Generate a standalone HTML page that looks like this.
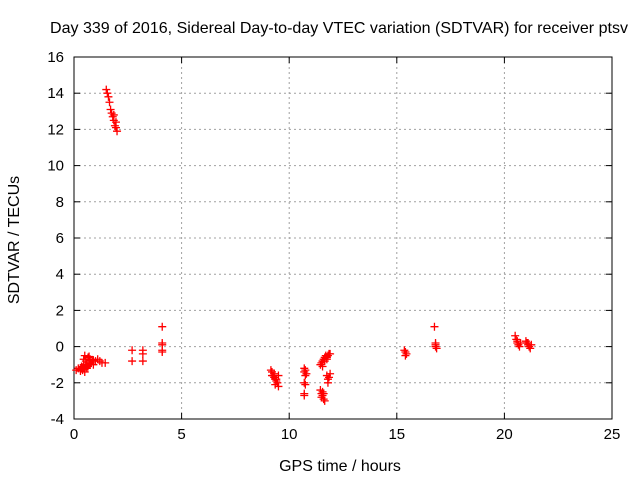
<!DOCTYPE html>
<html><head><meta charset="utf-8"><style>
body{margin:0;background:#fff}
svg text{font-family:"Liberation Sans",sans-serif;font-size:15px;fill:#000}
svg text.big{font-size:16px}
</style></head><body>
<svg id="c" width="640" height="480"></svg>
<script>
const xTicks=[0,5,10,15,20,25];
const yTicks=[-4,-2,0,2,4,6,8,10,12,14,16];
const xs=[0.1,0.2,0.3,0.35,0.4,0.45,0.5,0.55,0.6,0.65,0.7,0.75,0.8,0.85,0.9,1.0,1.1,1.2,1.3,1.45,0.5,0.6,0.7,0.4,0.55,0.45,0.65,0.75,0.3,0.9,
1.5,1.55,1.6,1.65,1.7,1.75,1.8,1.85,1.9,1.95,2.0,1.85,1.95,
2.7,2.7,3.2,3.2,3.2,4.1,4.1,4.1,4.1,4.1,
9.15,9.2,9.25,9.3,9.35,9.4,9.45,9.5,9.3,9.4,9.2,9.35,9.5,
10.7,10.7,10.75,10.7,10.75,10.7,10.7,10.75,10.8,
11.45,11.5,11.55,11.6,11.65,11.5,11.55,11.6,
11.75,11.8,11.8,11.85,11.9,
11.45,11.5,11.55,11.6,11.65,11.7,11.75,11.8,11.85,11.9,11.55,11.65,11.75,
15.35,15.4,15.45,15.4,
16.75,16.8,16.8,16.85,16.8,
20.5,20.55,20.6,20.65,20.7,20.6,20.75,
21.0,21.05,21.1,21.15,21.2,21.1,21.25];
const ys=[-1.3,-1.2,-1.25,-1.1,-1.3,-1.0,-0.5,-0.8,-1.2,-0.6,-1.0,-0.7,-0.9,-0.8,-1.0,-0.8,-0.7,-0.8,-0.9,-0.9,-1.4,-0.9,-0.55,-1.15,-1.05,-0.7,-1.1,-0.95,-1.35,-0.75,
14.2,14.0,13.8,13.5,13.1,12.9,12.7,12.5,12.2,12.1,11.9,12.8,12.4,
-0.2,-0.8,-0.2,-0.4,-0.8,1.1,0.2,0.1,-0.2,-0.3,
-1.3,-1.4,-1.6,-1.7,-1.8,-1.9,-2.0,-2.2,-1.5,-1.8,-1.6,-2.1,-1.6,
-1.2,-1.4,-1.6,-2.0,-2.1,-2.6,-2.7,-1.3,-1.5,
-2.4,-2.6,-2.7,-2.9,-3.0,-2.8,-2.5,-2.6,
-1.6,-1.8,-2.0,-1.7,-1.5,
-1.0,-0.9,-0.8,-0.7,-0.6,-0.5,-0.6,-0.5,-0.4,-0.4,-1.1,-0.8,-0.7,
-0.2,-0.3,-0.4,-0.5,
1.1,0.1,0.0,-0.1,0.2,
0.6,0.4,0.2,0.1,0.0,0.3,0.2,
0.3,0.2,0.1,0.0,-0.1,0.2,0.1];
const L=74,R=612,T=57,B=419;
const X=v=>L+(v-0)/25*(R-L), Y=v=>B-(v+4)/20*(B-T);
const s=document.getElementById('c'),NS='http://www.w3.org/2000/svg';
function mk(t,a,txt){const e=document.createElementNS(NS,t);for(const k in a)e.setAttribute(k,a[k]);if(txt!==undefined)e.textContent=txt;s.appendChild(e);return e;}
xTicks.forEach(v=>{
 if(v>0&&v<25){const g=mk('line',{x1:X(v),x2:X(v),y1:T,y2:B,stroke:'#a0a0a0','stroke-dasharray':'2,3'});
 
 }
 mk('line',{x1:X(v),x2:X(v),y1:B,y2:B-6,stroke:'#000'});mk('line',{x1:X(v),x2:X(v),y1:T,y2:T+6,stroke:'#000'});
 const t=mk('text',{x:X(v),y:B+20,'text-anchor':'middle'},v);
 
 
});
yTicks.forEach(v=>{
 if(v>-4&&v<16){const g=mk('line',{x1:L,x2:R,y1:Y(v),y2:Y(v),stroke:'#a0a0a0','stroke-dasharray':'2,3'});
 
 }
 mk('line',{x1:L,x2:L+6,y1:Y(v),y2:Y(v),stroke:'#000'});mk('line',{x1:R,x2:R-6,y1:Y(v),y2:Y(v),stroke:'#000'});
 const t=mk('text',{x:L-10,y:Y(v)+5,'text-anchor':'end'},v);
 
 
});
const f=mk('rect',{x:L,y:T,width:R-L,height:B-T,fill:'none',stroke:'#000'});


xs.forEach((x,i)=>{
 const px=X(x),py=Y(ys[i]);
 const p=mk('path',{d:`M${px-4},${py}H${px+4}M${px},${py-4}V${py+4}`,stroke:'#f00','stroke-width':1.3});
 
 
});
let t=mk('text',{x:339,y:33,'text-anchor':'middle',class:'big',textLength:578,lengthAdjust:'spacingAndGlyphs'},'Day 339 of 2016, Sidereal Day-to-day VTEC variation (SDTVAR) for receiver ptsv');


t=mk('text',{x:340,y:471,'text-anchor':'middle',class:'big'},'GPS time / hours');


t=mk('text',{x:19,y:240,'text-anchor':'middle',class:'big',transform:'rotate(-90 19 240)'},'SDTVAR / TECUs');


</script>
</body></html>
